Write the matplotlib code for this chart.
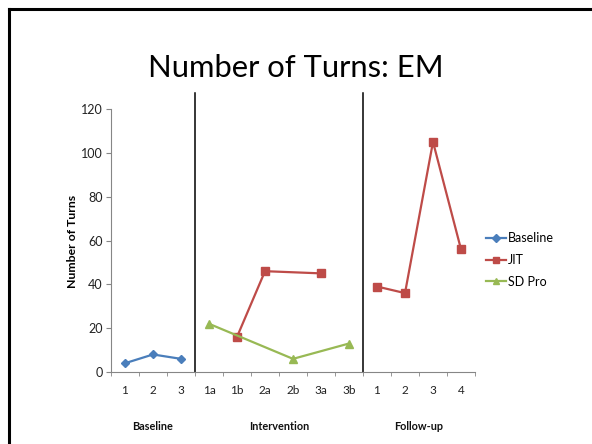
import numpy as np
from matplotlib import pyplot as plt
from matplotlib.lines import Line2D

plt.rcParams['font.family'] = ['Lato', 'DejaVu Sans']

categories = ['1', '2', '3', '1a', '1b', '2a', '2b', '3a', '3b', '1', '2', '3', '4']
phases = ['Baseline'] * 3 + ['Intervention'] * 6 + ['Follow-up'] * 4
phase_names = ['Baseline', 'Intervention', 'Follow-up']

nan = np.nan
baseline = [4, 8, 6, nan, nan, nan, nan, nan, nan, nan, nan, nan, nan]
jit = [nan, nan, nan, nan, 16, 46, nan, 45, nan, 39, 36, 105, 56]
sd_pro = [nan, nan, nan, 22, nan, nan, 6, nan, 13, nan, nan, nan, nan]

series = [
    ('Baseline', baseline, '#4A7EBB', 'D', 4.5),
    ('JIT', jit, '#BE4B48', 's', 6),
    ('SD Pro', sd_pro, '#98B954', '^', 6),
]

fig = plt.figure(figsize=(5.92, 4.44), dpi=100)
ax = fig.add_axes([111 / 592, 1 - 372 / 444, 364 / 592, 263 / 444])

x = np.arange(len(categories))
handles = []
for name, vals, color, marker, ms in series:
    vals = np.array(vals, dtype=float)
    h = None
    # connect points only inside each phase
    for ph in phase_names:
        idx = [i for i in range(len(x)) if phases[i] == ph and not np.isnan(vals[i])]
        if not idx:
            continue
        line, = ax.plot(x[idx], vals[idx], color=color, marker=marker, markersize=ms,
                        linewidth=1.6, label=name, clip_on=False, zorder=3)
        if h is None:
            h = line
    handles.append(h)

ax.set_xlim(-0.5, len(categories) - 0.5)
ax.set_ylim(0, 120)
ax.set_yticks(range(0, 121, 20))
ax.set_xticks(x)
ax.set_xticklabels(categories)
ax.set_xticks(np.arange(-0.5, len(categories), 1), minor=True)
ax.tick_params(axis='x', which='major', length=0, pad=9, labelsize=8.5, labelcolor='#222222')
ax.tick_params(axis='x', which='minor', length=3, color='#868686', direction='out')
ax.tick_params(axis='y', length=3.5, color='#868686', pad=2.5, labelsize=9, labelcolor='#222222')

for side in ['top', 'right']:
    ax.spines[side].set_visible(False)
for side in ['left', 'bottom']:
    ax.spines[side].set_color('#868686')
    ax.spines[side].set_linewidth(0.8)

# phase dividers
for b in [2.5, 8.5]:
    ax.plot([b, b], [0, 127.5], color='black', linewidth=1.1, clip_on=False, zorder=2)

# phase labels
centers = [1, 5.5, 10.5]
for c, name in zip(centers, phase_names):
    ax.text(c, -0.208, name, transform=ax.get_xaxis_transform(), ha='center', va='center',
            fontsize=7.8, fontweight='bold', color='#111111')

fig.text(72 / 592, 1 - 241 / 444, 'Number of Turns', rotation=90, ha='center', va='center',
         fontsize=8.8, fontweight='bold')

fig.text(0.5, 1 - 77 / 444, 'Number of Turns: EM', ha='center', va='baseline', fontsize=22.3)

fig.legend(handles, [s[0] for s in series], loc='center left',
           bbox_to_anchor=(486 / 592, 1 - 260 / 444), frameon=False, fontsize=9,
           handlelength=1.6, handletextpad=0.15, labelspacing=0.78, borderpad=0,
           borderaxespad=0, markerscale=0.8)

# slide border (top and left edges)
fig.add_artist(Line2D([8.5 / 592, 1], [1 - 9.5 / 444, 1 - 9.5 / 444], color='black',
                      linewidth=2.2, transform=fig.transFigure))
fig.add_artist(Line2D([8.5 / 592, 8.5 / 592], [0, 1 - 9.5 / 444], color='black',
                      linewidth=2.2, transform=fig.transFigure, solid_capstyle='projecting'))

fig.savefig('out.png', dpi=100)
